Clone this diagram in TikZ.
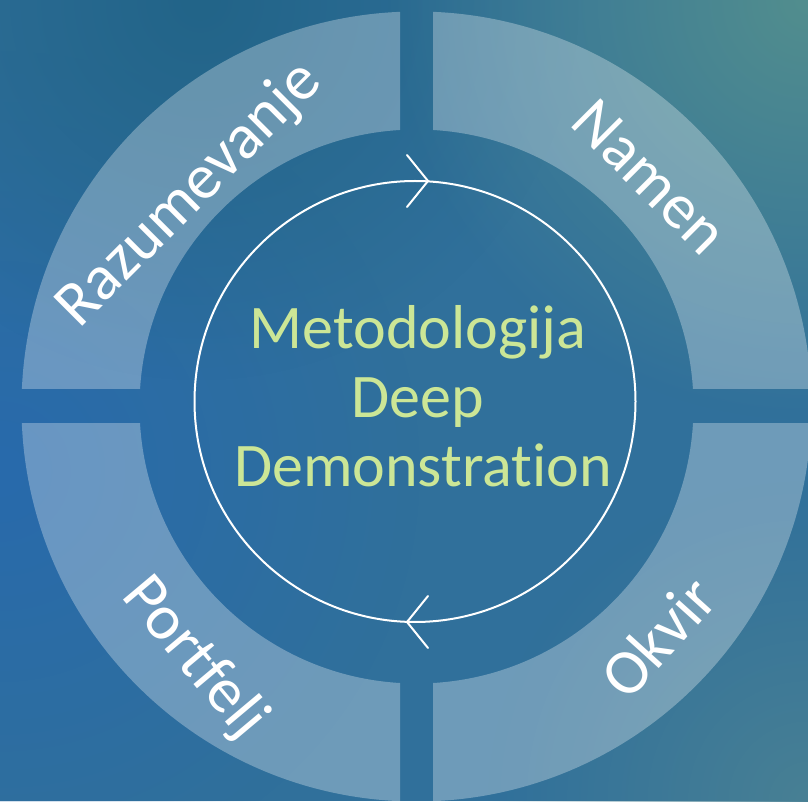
\documentclass[tikz,border=0pt]{standalone}
\usepackage{fontspec}
\setmainfont[Ligatures={NoCommon}]{Carlito}
\usetikzlibrary{fadings}
\tikzfading[name=softglow, inner color=transparent!0, outer color=transparent!100]
\definecolor{bgbase}{RGB}{48,112,155}
\definecolor{bgblue}{RGB}{40,106,172}
\definecolor{bgteal}{RGB}{82,142,142}
\definecolor{bgteal2}{RGB}{72,128,148}
\definecolor{bgdark}{RGB}{34,100,136}
\definecolor{titlegreen}{RGB}{204,230,150}
\tikzset{
  segment/.style={fill=white, fill opacity=0.3, even odd rule},
  seglabel/.style={text=white, font=\fontsize{64}{64}\selectfont, inner sep=0pt},
  titleline/.style={text=titlegreen, font=\fontsize{62}{69}\selectfont, inner sep=0pt, anchor=base},
  ringline/.style={draw=white, line width=2pt},
  barb/.style={draw=white, line width=2pt, line cap=round, line join=miter},
  glow/.style={path fading=softglow}
}
\begin{document}
\begin{tikzpicture}[x=1pt,y=1pt]
\useasboundingbox (0,0) rectangle (808,801);
\begin{scope}
\clip (0,0) rectangle (808,801);
% background
\fill[bgbase] (0,0) rectangle (808,801);
\fill[bgblue, glow] (0,330) circle (420);
\fill[bgdark, glow] (200,801) circle (380);
\fill[bgteal, glow] (808,801) circle (420);
\fill[bgteal2, glow] (808,0) circle (320);
% ring segments
\coordinate (rc) at (416.5,394.5);
\begin{scope}
\clip (0,412) rectangle (400,801);
\path[segment] (rc) circle (395) (rc) circle (277);
\end{scope}
\begin{scope}
\clip (433,412) rectangle (808,801);
\path[segment] (rc) circle (395) (rc) circle (277);
\end{scope}
\begin{scope}
\clip (0,0) rectangle (400,377);
\path[segment] (rc) circle (395) (rc) circle (277);
\end{scope}
\begin{scope}
\clip (433,0) rectangle (808,377);
\path[segment] (rc) circle (395) (rc) circle (277);
\end{scope}
\end{scope}
% centre circle
\node[circle, ringline, minimum size=441pt, inner sep=0pt] (cyc) at (415,399.5) {};
% barbs
\coordinate (tipA) at (428,620);
\coordinate (tipB) at (407,179);
\draw[barb] ([shift={(-21,26)}]tipA) -- (tipA) -- ([shift={(-21,-26)}]tipA);
\draw[barb] ([shift={(21,26)}]tipB) -- (tipB) -- ([shift={(21,-26)}]tipB);
% title
\node[titleline] (t1) at (418,452) {Metodologija};
\node[titleline] (t2) at (418,383) {Deep};
\node[titleline] (t3) at (423,314) {Demonstration};
% segment labels
\node[seglabel, rotate=45] (lraz) at (190,606) {Razumevanje};
\node[seglabel, rotate=-45] (lnam) at (650,624) {Namen};
\node[seglabel, rotate=-50] (lpor) at (194,143) {Portfelj};
\node[seglabel, rotate=48] (lokv) at (658,164) {Okvir};
\end{tikzpicture}
\end{document}
